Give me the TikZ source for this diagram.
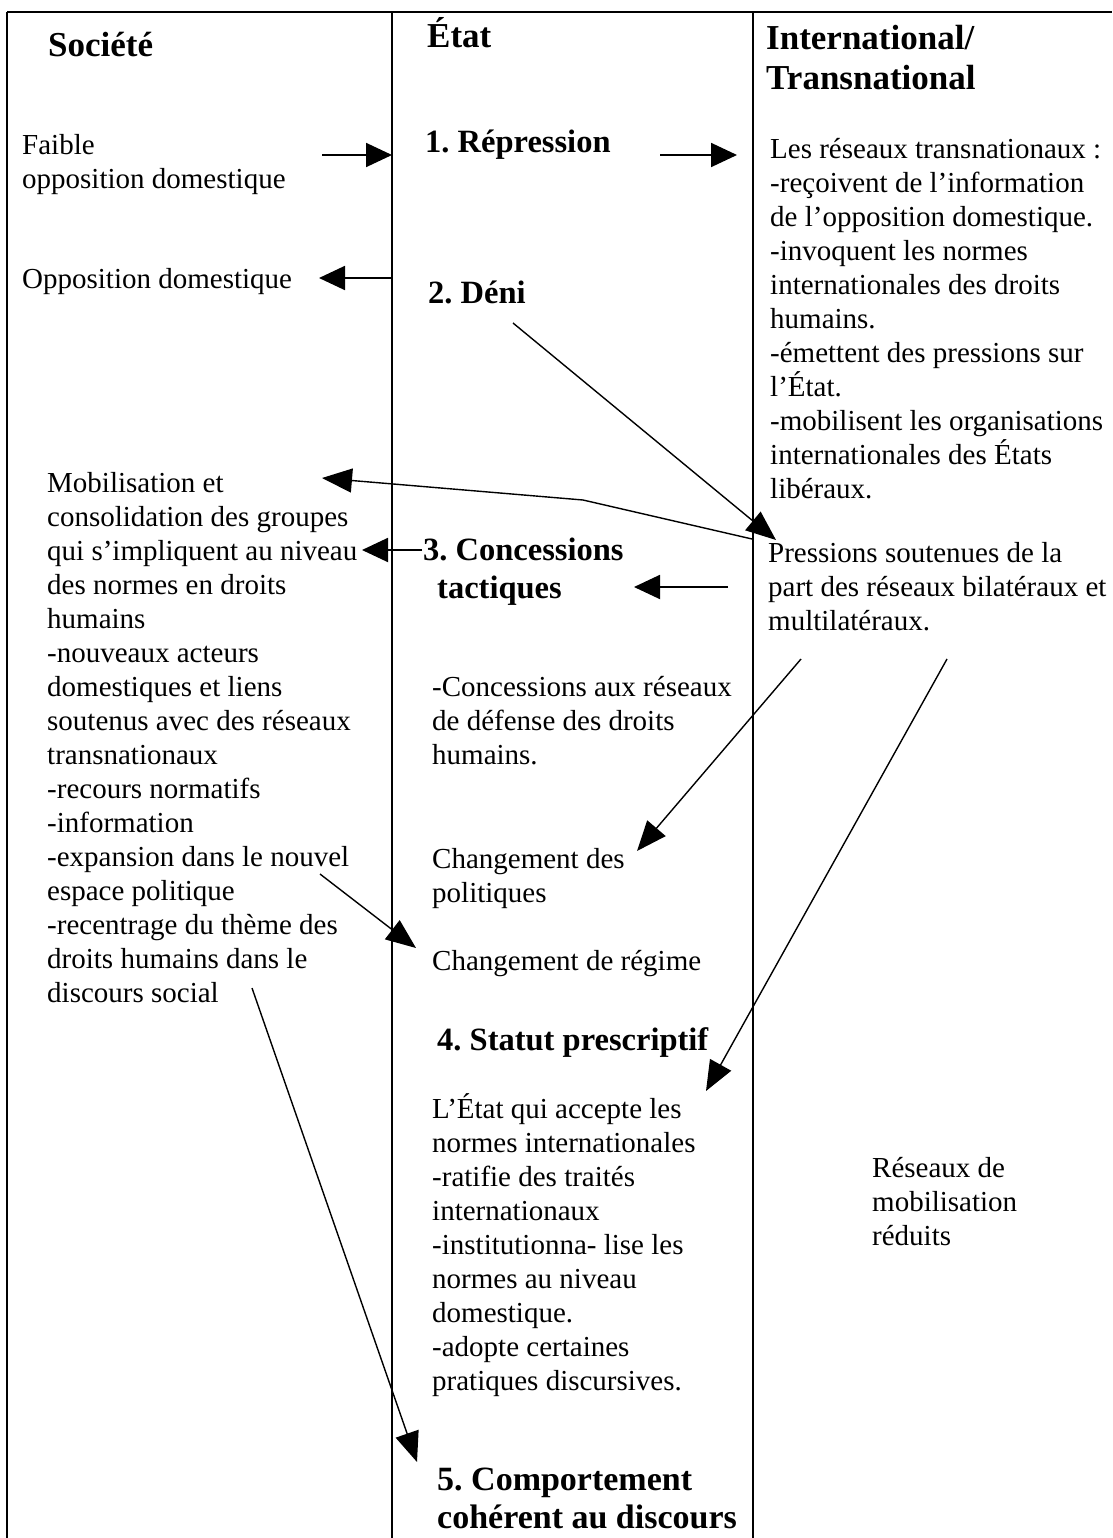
\documentclass[tikz,border=0pt]{standalone}
\usepackage{fontspec}
\setmainfont{Liberation Serif}
\usetikzlibrary{arrows.meta}
\begin{document}
\frenchspacing
\begin{tikzpicture}[x=1pt,y=-1pt,
  frame/.style={line width=2pt},
  body/.style={anchor=base west, inner sep=0pt, align=left, font=\fontsize{29}{34}\selectfont},
  colhead/.style={anchor=base west, inner sep=0pt, align=left, font=\fontsize{35}{40}\selectfont\bfseries},
  stephead/.style={anchor=base west, inner sep=0pt, align=left, font=\fontsize{32.5}{38}\selectfont\bfseries},
  bigstep/.style={stephead, font=\fontsize{34}{38}\selectfont\bfseries},
  conn/.style={line width=1.4pt, -{Triangle[length=30pt,width=24pt]}},
  hconn/.style={line width=1.9pt, -{Triangle[length=26pt,width=24pt]}},
  ]
\useasboundingbox (0,0) rectangle (1112,1538);

% frame
\draw[frame] (7,12) -- (1112,12);
\draw[frame] (7,12) -- (7,1538);
\draw[frame] (392,12) -- (392,1538);
\draw[frame] (753,12) -- (753,1538);

% column headings (base = baseline of the last line)
\node[colhead] (soc) at (48,57) {Société};
\node[colhead] (etat) at (427,48) {État};
\node[colhead] (intl) at (766,90) {International/\\Transnational};

% society column
\node[body] (faible) at (22,189) {Faible\\opposition domestique};
\node[body] (oppo) at (22,288) {Opposition domestique};
\node[body] (mobil) at (47,1002) {Mobilisation et\\consolidation des groupes\\qui s’impliquent au niveau\\des normes en droits\\humains\\-nouveaux acteurs\\domestiques et liens\\soutenus avec des réseaux\\transnationaux\\-recours normatifs\\-information\\-expansion dans le nouvel\\espace politique\\-recentrage du thème des\\droits humains dans le\\discours social};

% state column
\node[stephead] (s1) at (425,153) {1. Répression};
\node[stephead] (s2) at (428,303) {2. Déni};
\node[stephead] (s3) at (423,598) {3. Concessions\\\hspace*{14pt}tactiques};
\node[body] (conc) at (432,764) {-Concessions aux réseaux\\de défense des droits\\humains.};
\node[body] (chpol) at (432,902) {Changement des\\politiques};
\node[body] (chreg) at (432,970) {Changement de régime};
\node[stephead] (s4) at (437,1050) {4. Statut prescriptif};
\node[body] (accept) at (432,1390) {L’État qui accepte les\\normes internationales\\-ratifie des traités\\internationaux\\-institutionna- lise les\\normes au niveau\\domestique.\\-adopte certaines\\pratiques discursives.};
\node[bigstep] (s5) at (437,1528) {5. Comportement\\cohérent au discours};

% international column
\node[body] (reseaux) at (770,498) {Les réseaux transnationaux :\\-reçoivent de l’information\\de l’opposition domestique.\\-invoquent les normes\\internationales des droits\\humains.\\-émettent des pressions sur\\l’État.\\-mobilisent les organisations\\internationales des États\\libéraux.};
\node[body] (press) at (768,630) {Pressions soutenues de la\\part des réseaux bilatéraux et\\multilatéraux.};
\node[body] (reduits) at (872,1245) {Réseaux de\\mobilisation\\réduits};

% connector end points
\coordinate (a1s) at (322,155);  \coordinate (a1e) at (392,155);
\coordinate (a2s) at (660,155);  \coordinate (a2e) at (737,155);
\coordinate (a3s) at (391,278);  \coordinate (a3e) at (319,278);
\coordinate (a4s) at (513,323);  \coordinate (a4e) at (776,540);
\coordinate (a5s) at (752,539);  \coordinate (a5m) at (583,500); \coordinate (a5e) at (322,478);
\coordinate (a6s) at (422,550);  \coordinate (a6e) at (362,550);
\coordinate (a7s) at (728,587);  \coordinate (a7e) at (634,587);
\coordinate (a8s) at (801,659);  \coordinate (a8e) at (637,851);
\coordinate (a9s) at (947,659);  \coordinate (a9e) at (706,1091);
\coordinate (a10s) at (320,874); \coordinate (a10e) at (416,948);
\coordinate (a11s) at (252,988); \coordinate (a11e) at (417,1462);

% connectors
\draw[hconn] (a1s) -- (a1e);
\draw[hconn] (a2s) -- (a2e);
\draw[hconn] (a3s) -- (a3e);
\draw[conn] (a4s) -- (a4e);
\draw[conn] (a5s) -- (a5m) -- (a5e);
\draw[hconn] (a6s) -- (a6e);
\draw[hconn] (a7s) -- (a7e);
\draw[conn] (a8s) -- (a8e);
\draw[conn] (a9s) -- (a9e);
\draw[conn] (a10s) -- (a10e);
\draw[conn] (a11s) -- (a11e);
\end{tikzpicture}
\end{document}
